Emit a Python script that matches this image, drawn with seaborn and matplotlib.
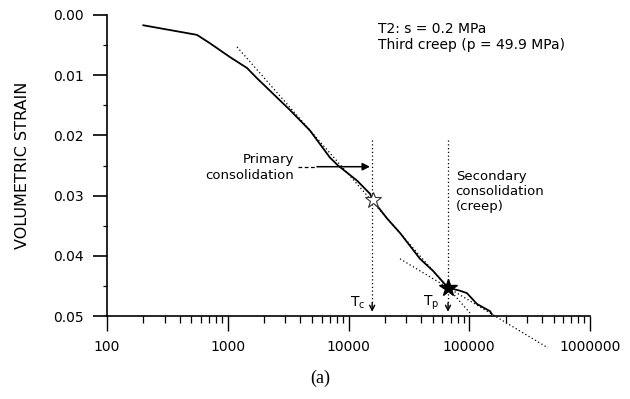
import numpy as np
import pandas as pd
import matplotlib
matplotlib.use("Agg")
import matplotlib.pyplot as plt
import seaborn as sns
from matplotlib.ticker import FixedLocator, FixedFormatter, LogLocator, NullFormatter, MultipleLocator

# ---- data ----
time_s = [199, 556, 713, 1045, 1443, 1746, 3280, 4800, 7030, 8190, 11750,
          15070, 15950, 20860, 26700, 39100, 50100, 66700, 83800, 95700,
          115800, 148500, 154000]
vol_strain = [0.0017, 0.0033, 0.0047, 0.0070, 0.0088, 0.0105, 0.0158, 0.0192,
              0.0237, 0.0250, 0.0275, 0.0297, 0.0308, 0.0338, 0.0362, 0.0405,
              0.0425, 0.0453, 0.0458, 0.0462, 0.0480, 0.0492, 0.0497]

primary_tangent_t = [1193, 101400]
primary_tangent_e = [0.0053, 0.0495]
secondary_tangent_t = [26700, 449000]
secondary_tangent_e = [0.0405, 0.0553]

Tc = 15700
Tp = 66700
tc_star = (15950, 0.0308)
tp_star = (66700, 0.0453)
guide_top = 0.0208
guide_bottom = 0.0493

primary_arrow_t = [3820, 5480, 15070]
primary_arrow_e = 0.0252

xticks = [100, 1000, 10000, 100000, 1000000]
xtick_labels = ["100", "1000", "10000", "100000", "1000000"]
yticks = [0.00, 0.01, 0.02, 0.03, 0.04, 0.05]
ytick_labels = ["0.00", "0.01", "0.02", "0.03", "0.04", "0.05"]

# ---- style ----
sns.set_style("ticks")
plt.rcParams["font.family"] = ["DejaVu Sans"]
plt.rcParams["text.color"] = "black"
plt.rcParams["axes.labelcolor"] = "black"
plt.rcParams["xtick.color"] = "black"
plt.rcParams["ytick.color"] = "black"

fig = plt.figure(figsize=(6.30, 3.99), dpi=100)
ax = fig.add_axes([107 / 630, 1 - 316 / 399, 483 / 630, 301 / 399])

df = pd.DataFrame({"time": time_s, "strain": vol_strain})
sns.lineplot(data=df, x="time", y="strain", ax=ax, color="black", lw=1.3,
             estimator=None, sort=False)

ax.set_xscale("log")
ax.set_xlim(100, 1000000)
ax.set_ylim(0.05, 0.0)

# tangent lines
ax.plot(primary_tangent_t, primary_tangent_e, ls=(0, (1, 2)), color="black", lw=0.9, clip_on=False)
ax.plot(secondary_tangent_t, secondary_tangent_e, ls=(0, (1, 2)), color="black", lw=0.9, clip_on=False)

# vertical guides with arrows
for tv in (Tc, Tp):
    ax.plot([tv, tv], [guide_top, guide_bottom - 0.001], ls=(0, (1, 2)), color="black", lw=0.9)
    ax.annotate("", xy=(tv, guide_bottom), xytext=(tv, guide_bottom - 0.0015),
                arrowprops=dict(arrowstyle="->", color="black", lw=1.0,
                                shrinkA=0, shrinkB=0, mutation_scale=9))

# stars
ax.plot([tc_star[0]], [tc_star[1]], marker="*", ms=12, mfc="white", mec="#333333", mew=0.8, ls="none")
ax.plot([tp_star[0]], [tp_star[1]], marker="*", ms=13, mfc="black", mec="black", ls="none")

# primary consolidation arrow
ax.plot(primary_arrow_t[:2], [primary_arrow_e] * 2, ls=(0, (3, 2)), color="black", lw=0.9)
ax.annotate("", xy=(primary_arrow_t[2], primary_arrow_e), xytext=(primary_arrow_t[1], primary_arrow_e),
            arrowprops=dict(arrowstyle="-|>", color="black", lw=1.1, shrinkA=0, shrinkB=0,
                            mutation_scale=11))

# texts
ax.text(0.561, 0.977, "T2: s = 0.2 MPa\nThird creep (p = 49.9 MPa)", transform=ax.transAxes,
        ha="left", va="top", fontsize=10, linespacing=1.2)
ax.text(0.387, 0.495, "Primary\nconsolidation", transform=ax.transAxes,
        ha="right", va="center", fontsize=9.5, linespacing=1.3)
ax.text(0.722, 0.412, "Secondary\nconsolidation\n(creep)", transform=ax.transAxes,
        ha="left", va="center", fontsize=9.5, linespacing=1.2)
ax.text(0.518, 0.045, r"T$_\mathregular{c}$", transform=ax.transAxes, ha="center", va="center", fontsize=10)
ax.text(0.672, 0.045, r"T$_\mathregular{p}$", transform=ax.transAxes, ha="center", va="center", fontsize=10)

# axes
ax.xaxis.set_major_locator(FixedLocator(xticks))
ax.xaxis.set_major_formatter(FixedFormatter(xtick_labels))
ax.xaxis.set_minor_locator(LogLocator(base=10, subs=np.arange(2, 10)))
ax.xaxis.set_minor_formatter(NullFormatter())
ax.yaxis.set_major_locator(FixedLocator(yticks))
ax.yaxis.set_major_formatter(FixedFormatter(ytick_labels))
ax.yaxis.set_minor_locator(MultipleLocator(0.005))

ax.tick_params(axis="x", which="major", direction="out", length=11, width=1.0, pad=6, labelsize=10)
ax.tick_params(axis="x", which="minor", direction="out", length=5, width=0.9)
ax.tick_params(axis="y", which="major", direction="out", length=10, width=1.2, pad=7, labelsize=10)
ax.tick_params(axis="y", which="minor", direction="out", length=3, width=0.9)

sns.despine(ax=ax)
for s in ("left", "bottom"):
    ax.spines[s].set_linewidth(1.2)
    ax.spines[s].set_color("black")

ax.set_xlabel("")
ax.set_ylabel("VOLUMETRIC STRAIN", fontsize=11.5, labelpad=16)

fig.text(320 / 630, 1 - 378 / 399, "(a)", ha="center", va="center", fontsize=13,
         family=["Liberation Serif", "DejaVu Serif"])

fig.savefig("out.png", dpi=100, facecolor="white")
